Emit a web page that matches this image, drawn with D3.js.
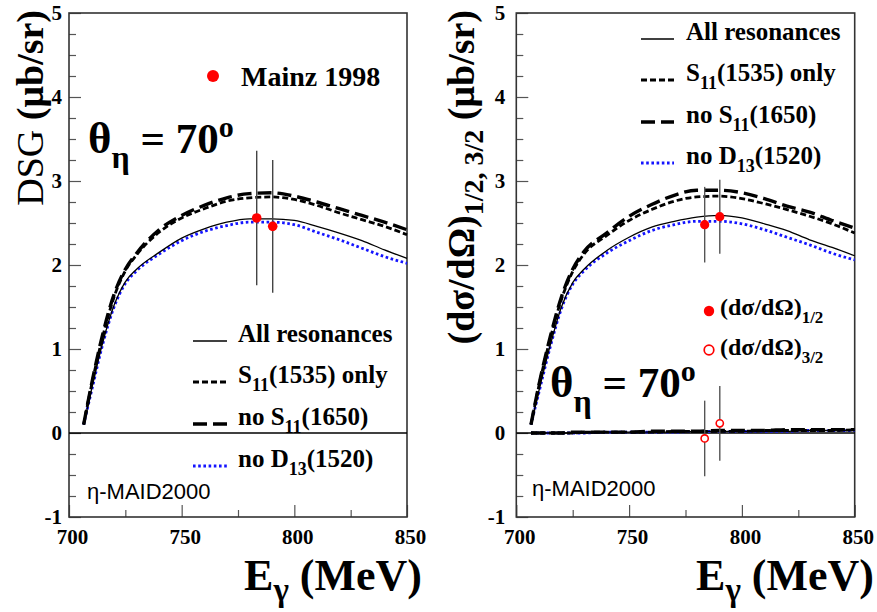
<!DOCTYPE html>
<html>
<head>
<meta charset="utf-8">
<script src="https://cdn.jsdelivr.net/npm/d3@7"></script>
<style>
  body { margin: 0; background: #fff; }
  svg text { font-family: "Liberation Serif", "Times New Roman", serif; }
</style>
</head>
<body>
<div id="chart"></div>
<script>

// photon energy grid (MeV)
var energy = [706.5, 710, 715, 720, 725, 730, 740, 750, 760, 770, 780, 790, 800, 810, 820, 830, 840, 850];

// left panel: full DSG
var leftAll     = [0.10, 0.52, 1.08, 1.52, 1.80, 1.95, 2.15, 2.32, 2.43, 2.51, 2.55, 2.55, 2.53, 2.46, 2.38, 2.29, 2.18, 2.08];
var leftS11only = [0.10, 0.57, 1.15, 1.62, 1.93, 2.12, 2.39, 2.56, 2.67, 2.76, 2.80, 2.81, 2.78, 2.71, 2.62, 2.54, 2.46, 2.36];
var leftNoS11   = [0.10, 0.58, 1.18, 1.65, 1.95, 2.14, 2.42, 2.59, 2.71, 2.80, 2.85, 2.86, 2.82, 2.75, 2.67, 2.59, 2.51, 2.42];
var leftNoD13   = [0.10, 0.50, 1.06, 1.50, 1.78, 1.93, 2.13, 2.29, 2.40, 2.47, 2.51, 2.51, 2.48, 2.39, 2.30, 2.20, 2.10, 2.02];

// right panel: helicity 1/2
var rightAll     = [0.10, 0.50, 1.04, 1.50, 1.79, 1.95, 2.17, 2.33, 2.45, 2.52, 2.57, 2.59, 2.56, 2.49, 2.41, 2.30, 2.21, 2.11];
var rightS11only = [0.10, 0.56, 1.12, 1.59, 1.92, 2.13, 2.35, 2.53, 2.66, 2.76, 2.81, 2.82, 2.79, 2.73, 2.66, 2.58, 2.49, 2.38];
var rightNoS11   = [0.10, 0.57, 1.14, 1.62, 1.95, 2.16, 2.38, 2.58, 2.72, 2.83, 2.89, 2.89, 2.86, 2.79, 2.70, 2.63, 2.53, 2.44];
var rightNoD13   = [0.10, 0.48, 1.02, 1.48, 1.77, 1.93, 2.14, 2.29, 2.41, 2.48, 2.52, 2.52, 2.49, 2.42, 2.33, 2.24, 2.14, 2.06];

// right panel: helicity 3/2
var right32All     = [0.00, 0.00, 0.00, 0.00, 0.00, 0.00, 0.01, 0.01, 0.01, 0.01, 0.02, 0.02, 0.02, 0.02, 0.02, 0.03, 0.03, 0.03];
var right32S11only = [0.00, 0.00, 0.00, 0.00, 0.00, 0.01, 0.01, 0.01, 0.01, 0.02, 0.02, 0.02, 0.02, 0.03, 0.03, 0.03, 0.03, 0.04];
var right32NoS11   = [0.00, 0.00, 0.00, 0.00, 0.01, 0.01, 0.01, 0.01, 0.02, 0.02, 0.02, 0.03, 0.03, 0.03, 0.04, 0.04, 0.04, 0.04];
var right32NoD13   = [0.00, 0.00, 0.00, 0.00, 0.00, 0.00, 0.01, 0.01, 0.01, 0.01, 0.02, 0.02, 0.02, 0.02, 0.02, 0.03, 0.03, 0.03];

// Mainz 1998 data
var mainzE   = [783.3, 790.4];
var mainzDsg = [2.56, 2.46];
var mainzErr = [0.80, 0.79];

// helicity separated points
var helE      = [783.5, 790.2];
var hel12     = [2.48, 2.575];
var hel12Err  = [0.45, 0.44];
var hel32     = [-0.065, 0.115];
var hel32Err  = [0.45, 0.445];

var yTicks = [-1, 0, 1, 2, 3, 4, 5];
var xTicks = [700, 750, 800, 850];
var xMinorTicks = [725, 775, 825];
var yMinorTicks = [-0.75, -0.5, -0.25, 0.25, 0.5, 0.75, 1.25, 1.5, 1.75, 2.25, 2.5, 2.75, 3.25, 3.5, 3.75, 4.25, 4.5, 4.75];

var legendNames = ['All resonances', 'S11(1535) only', 'no S11(1650)', 'no D13(1520)'];

var styles = {
  all:  { stroke: '#000', width: 1.3, dash: null },
  s11:  { stroke: '#000', width: 2.8, dash: '6,3' },
  noS:  { stroke: '#000', width: 3.4, dash: '14,6' },
  noD:  { stroke: '#1414ff', width: 2.8, dash: '2.6,2.6' }
};

var svg = d3.select('#chart').append('svg')
    .attr('width', 877)
    .attr('height', 612);

var y = d3.scaleLinear().domain([-1, 5]).range([517, 13]);

function rich(g, x, yy, parts, opt) {
  opt = opt || {};
  var t = g.append('text')
      .attr('x', x)
      .attr('y', yy)
      .attr('font-weight', opt.weight || 'bold')
      .attr('text-anchor', opt.anchor || 'start')
      .attr('fill', '#000');
  if (opt.transform) t.attr('transform', opt.transform).attr('x', 0).attr('y', 0);
  if (opt.family) t.style('font-family', opt.family);
  parts.forEach(function (p) {
    t.append('tspan')
      .attr('font-size', p.size)
      .attr('dy', p.dy || 0)
      .attr('font-weight', p.weight || null)
      .text(p.t);
  });
  return t;
}

function legendLabel(name, size) {
  var sub = size * 0.72, sh = size * 0.3;
  if (name === 'S11(1535) only') return [{t: 'S', size: size}, {t: '11', size: sub, dy: sh}, {t: '(1535) only', size: size, dy: -sh}];
  if (name === 'no S11(1650)') return [{t: 'no S', size: size}, {t: '11', size: sub, dy: sh}, {t: '(1650)', size: size, dy: -sh}];
  if (name === 'no D13(1520)') return [{t: 'no D', size: size}, {t: '13', size: sub, dy: sh}, {t: '(1520)', size: size, dy: -sh}];
  return [{t: name, size: size}];
}

function thetaLabel(g, x, yy) {
  rich(g, x, yy, [
    {t: 'θ', size: 45},
    {t: 'η', size: 32, dy: 15},
    {t: ' = 70', size: 43, dy: -15},
    {t: 'o', size: 30, dy: -16}
  ]);
}

function drawCurves(g, x, series) {
  var line = d3.line()
      .x(function (d, i) { return x(energy[i]); })
      .y(function (d) { return y(d); })
      .curve(d3.curveMonotoneX);
  series.forEach(function (s) {
    g.append('path')
      .attr('d', line(s.values))
      .attr('fill', 'none')
      .attr('stroke', s.style.stroke)
      .attr('stroke-width', s.style.width)
      .attr('stroke-dasharray', s.style.dash);
  });
}

function drawLegendLines(g, x1, x2, rows, textX, size) {
  var keys = ['all', 's11', 'noS', 'noD'];
  keys.forEach(function (k, i) {
    var st = styles[k];
    g.append('line')
      .attr('x1', x1).attr('x2', x2)
      .attr('y1', rows[i]).attr('y2', rows[i])
      .attr('stroke', st.stroke)
      .attr('stroke-width', st.width)
      .attr('stroke-dasharray', st.dash);
    rich(g, textX, rows[i] + 1, legendLabel(legendNames[i], size));
  });
}

function drawPanel(x0, x1) {
  var g = svg.append('g');
  var x = d3.scaleLinear().domain([700, 850]).range([x0, x1]);

  // minor ticks
  g.append('g')
      .attr('transform', 'translate(' + x0 + ',0)')
      .call(d3.axisLeft(y).tickValues(yMinorTicks).tickSize(-7).tickFormat(''));
  g.append('g')
      .attr('transform', 'translate(0,517)')
      .call(d3.axisBottom(x).tickValues(xMinorTicks).tickSize(-7).tickFormat(''));

  // major ticks + labels
  var pad = x0 > 300 ? 11 : 7;
  g.append('g')
      .attr('class', 'yaxis')
      .attr('transform', 'translate(' + x0 + ',0)')
      .call(d3.axisLeft(y).tickValues(yTicks).tickSize(-12).tickPadding(pad)
        .tickFormat(function (d) { return String(d); }));
  g.append('g')
      .attr('class', 'xaxis')
      .attr('transform', 'translate(0,517)')
      .call(d3.axisBottom(x).tickValues(xTicks).tickSize(-12).tickPadding(12)
        .tickFormat(function (d) { return String(d); }));

  g.selectAll('.domain').remove();
  g.selectAll('.tick line').attr('stroke', '#555').attr('stroke-width', 1.2);
  g.selectAll('.tick text')
      .attr('font-size', 21)
      .attr('font-weight', 'bold')
      .attr('fill', '#000')
      .style('font-family', '"Liberation Serif", serif');
  g.selectAll('.yaxis .tick text').attr('dy', '0.3em');
  g.selectAll('.xaxis .tick text').attr('dx', 3);

  // frame
  g.append('rect')
      .attr('x', x0).attr('y', 13)
      .attr('width', x1 - x0).attr('height', 504)
      .attr('fill', 'none')
      .attr('stroke', '#333')
      .attr('stroke-width', 1.6);

  // zero line
  g.append('line')
      .attr('x1', x0).attr('x2', x1)
      .attr('y1', y(0)).attr('y2', y(0))
      .attr('stroke', '#000')
      .attr('stroke-width', 1.5);

  return { g: g, x: x };
}

// ---------- left panel ----------
var L = drawPanel(69, 407);

drawCurves(L.g, L.x, [
  { values: leftNoD13, style: styles.noD },
  { values: leftAll, style: styles.all },
  { values: leftS11only, style: styles.s11 },
  { values: leftNoS11, style: styles.noS }
]);

L.g.selectAll('line.err')
    .data(mainzE)
    .enter()
  .append('line')
    .attr('class', 'err')
    .attr('x1', function (d) { return L.x(d); })
    .attr('x2', function (d) { return L.x(d); })
    .attr('y1', function (d, i) { return y(mainzDsg[i] + mainzErr[i]); })
    .attr('y2', function (d, i) { return y(mainzDsg[i] - mainzErr[i]); })
    .attr('stroke', '#444')
    .attr('stroke-width', 1.4);

L.g.selectAll('circle.pt')
    .data(mainzE)
    .enter()
  .append('circle')
    .attr('class', 'pt')
    .attr('cx', function (d) { return L.x(d); })
    .attr('cy', function (d, i) { return y(mainzDsg[i]); })
    .attr('r', 4.8)
    .attr('fill', '#ff0000');

L.g.append('circle').attr('cx', 213).attr('cy', 76).attr('r', 6).attr('fill', '#ff0000');
rich(L.g, 241, 86, [{t: 'Mainz 1998', size: 28}]);

thetaLabel(L.g, 88, 153);
drawLegendLines(L.g, 193, 227, [341, 382, 424, 466], 238, 25);

rich(L.g, 87, 499, [{t: 'η-MAID2000', size: 22}], { weight: 'normal', family: '"Liberation Sans", Arial, sans-serif' });

rich(L.g, 422, 590, [
  {t: 'E', size: 44},
  {t: 'γ', size: 33, dy: 11},
  {t: ' (MeV)', size: 44, dy: -11}
], { anchor: 'end' });

rich(L.g, 0, 0, [
  {t: 'DSG ', size: 38, weight: 'normal'},
  {t: '(μb/sr)', size: 38}
], { anchor: 'end', transform: 'translate(43,10) rotate(-90)' });

// ---------- right panel ----------
var R = drawPanel(516.3, 854.7);

drawCurves(R.g, R.x, [
  { values: rightNoD13, style: styles.noD },
  { values: rightAll, style: styles.all },
  { values: rightS11only, style: styles.s11 },
  { values: rightNoS11, style: styles.noS },
  { values: right32NoD13, style: styles.noD },
  { values: right32All, style: styles.all },
  { values: right32S11only, style: styles.s11 },
  { values: right32NoS11, style: styles.noS }
]);

var helPts = helE.map(function (e, i) {
  return [
    { e: e, v: hel12[i], err: hel12Err[i], open: false },
    { e: e, v: hel32[i], err: hel32Err[i], open: true }
  ];
}).reduce(function (a, b) { return a.concat(b); }, []);

R.g.selectAll('line.err')
    .data(helPts)
    .enter()
  .append('line')
    .attr('class', 'err')
    .attr('x1', function (d) { return R.x(d.e); })
    .attr('x2', function (d) { return R.x(d.e); })
    .attr('y1', function (d) { return y(d.v + d.err); })
    .attr('y2', function (d) { return y(d.v - d.err); })
    .attr('stroke', '#555')
    .attr('stroke-width', 1.4);

R.g.selectAll('circle.pt')
    .data(helPts)
    .enter()
  .append('circle')
    .attr('class', 'pt')
    .attr('cx', function (d) { return R.x(d.e); })
    .attr('cy', function (d) { return y(d.v); })
    .attr('r', function (d) { return d.open ? 3.6 : 4.6; })
    .attr('fill', function (d) { return d.open ? '#fff' : '#ff0000'; })
    .attr('stroke', function (d) { return d.open ? '#ff0000' : 'none'; })
    .attr('stroke-width', 1.6);

drawLegendLines(R.g, 641, 674, [39, 80, 122, 163], 686, 25);

R.g.append('circle').attr('cx', 709).attr('cy', 311).attr('r', 5.2).attr('fill', '#ff0000');
R.g.append('circle').attr('cx', 709).attr('cy', 350).attr('r', 4.8)
    .attr('fill', '#fff').attr('stroke', '#ff0000').attr('stroke-width', 1.7);
rich(R.g, 720, 315, [{t: '(dσ/dΩ)', size: 24}, {t: '1/2', size: 17, dy: 8}]);
rich(R.g, 720, 355, [{t: '(dσ/dΩ)', size: 24}, {t: '3/2', size: 17, dy: 8}]);

thetaLabel(R.g, 550, 397);

rich(R.g, 532, 496, [{t: 'η-MAID2000', size: 22}], { weight: 'normal', family: '"Liberation Sans", Arial, sans-serif' });

rich(R.g, 874, 590, [
  {t: 'E', size: 44},
  {t: 'γ', size: 33, dy: 11},
  {t: ' (MeV)', size: 44, dy: -11}
], { anchor: 'end' });

rich(R.g, 0, 0, [
  {t: '(dσ/dΩ)', size: 38},
  {t: '1/2, 3/2', size: 28, dy: 9},
  {t: ' (μb/sr)', size: 38, dy: -9}
], { anchor: 'end', transform: 'translate(474,10) rotate(-90)' });

</script>
</body>
</html>
